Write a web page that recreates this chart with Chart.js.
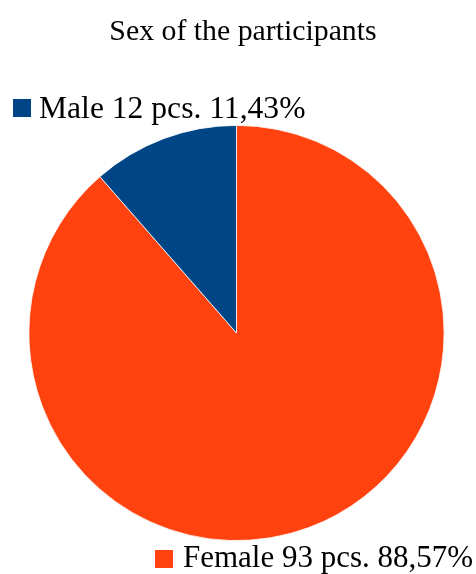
<!DOCTYPE html>
<html>
<head>
<meta charset="utf-8">
<script src="https://cdn.jsdelivr.net/npm/chart.js@4/dist/chart.umd.min.js"></script>
<style>
html,body{margin:0;padding:0;background:#fff;}
canvas{display:block;}
</style>
</head>
<body>
<canvas id="c" width="476" height="574"></canvas>
<script>
const chartTitle = "Sex of the participants";
const categories = ["Female", "Male"];
const counts = [93, 12];
const percentLabels = ["88,57%", "11,43%"];
const colors = ["#ff420e", "#004586"];

const labelPlugin = {
  id: 'labels',
  afterDraw(chart) {
    const ctx = chart.ctx;
    ctx.save();
    ctx.fillStyle = '#000';
    ctx.textBaseline = 'alphabetic';
    ctx.font = '29.8px "Liberation Serif", "Times New Roman", serif';
    ctx.textAlign = 'center';
    ctx.fillText(chartTitle, 243, 40);
    ctx.textAlign = 'left';
    const pos = [
      {sx: 155, sy: 550, tx: 183, ty: 567, fs: 31},
      {sx: 13, sy: 99, tx: 39, ty: 118, fs: 31.6}
    ];
    categories.forEach((c, i) => {
      const p = pos[i];
      ctx.font = p.fs + 'px "Liberation Serif", "Times New Roman", serif';
      ctx.fillStyle = colors[i];
      ctx.fillRect(p.sx, p.sy, 18, 18);
      ctx.fillStyle = '#000';
      ctx.fillText(c + ' ' + counts[i] + ' pcs. ' + percentLabels[i], p.tx, p.ty);
    });
    ctx.restore();
  }
};

new Chart(document.getElementById('c'), {
  type: 'pie',
  data: {
    labels: categories,
    datasets: [{
      data: counts,
      backgroundColor: colors,
      borderColor: '#ffffff',
      borderWidth: 0.8
    }]
  },
  options: {
    responsive: false,
    animation: false,
    layout: { padding: { left: 28, right: 31, top: 125, bottom: 33 } },
    plugins: {
      legend: { display: false },
      tooltip: { enabled: false },
      title: { display: false }
    }
  },
  plugins: [labelPlugin]
});
</script>
</body>
</html>
